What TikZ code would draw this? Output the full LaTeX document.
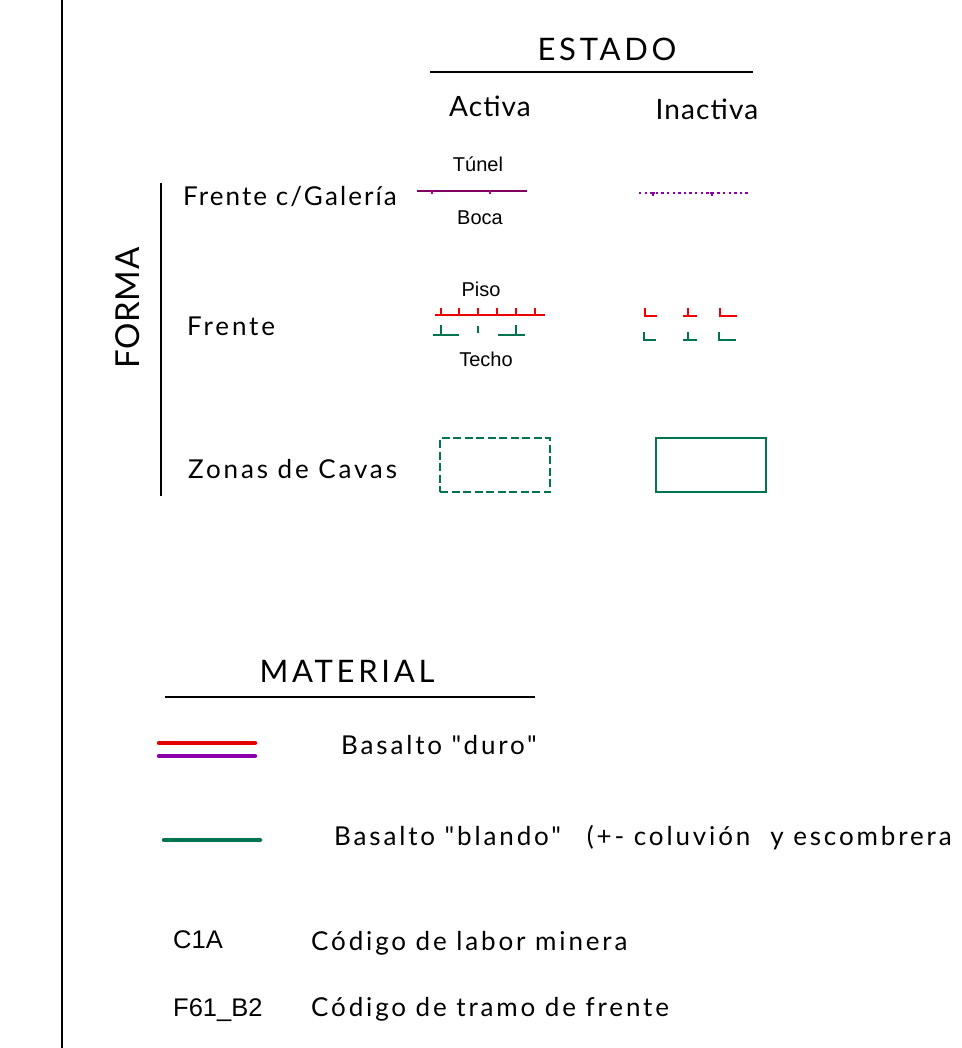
\documentclass[tikz,border=0pt]{standalone}
\usepackage{fontspec}
\setmainfont{Lato}[LetterSpace=11, Ligatures=TeXOff]
\newfontfamily\arialf{Liberation Sans}
\definecolor{galcol}{RGB}{128,0,96}
\definecolor{galdot}{RGB}{190,0,160}
\definecolor{purp}{RGB}{140,0,170}
\definecolor{redc}{RGB}{240,0,0}
\definecolor{grnc}{RGB}{0,115,80}
\tikzset{
  lbl/.style={font=\fontsize{26}{30}\selectfont, inner sep=0pt, anchor=base west},
  head/.style={font=\fontsize{31}{36}\selectfont\addfontfeature{LetterSpace=12}, inner sep=0pt, anchor=base},
  smalltxt/.style={font=\arialf\fontsize{20}{23}\selectfont, inner sep=0pt, anchor=base},
  codetxt/.style={font=\arialf\fontsize{25.5}{28}\selectfont, inner sep=0pt, anchor=base west},
  rule/.style={line width=2pt, black},
  sym/.style={line width=2.4pt},
  matline/.style={line width=4.5pt, line cap=round},
}
\begin{document}
\begin{tikzpicture}[x=1pt,y=-1pt]
\useasboundingbox (0,0) rectangle (961,1048);
% left border line
\coordinate (lt) at (62,0);
\coordinate (lb) at (62,1048);
\draw[line width=2.5pt] (lt) -- (lb);

% ESTADO header
\node[head] (estado) at (607,61) {ESTADO};
\coordinate (eu1) at (430,72);
\coordinate (eu2) at (753,72);
\draw[rule] (eu1) -- (eu2);
\node[head, font=\fontsize{28}{34}\selectfont\addfontfeature{LetterSpace=4}] (activa) at (490,117) {Activa};
\node[head, font=\fontsize{28}{34}\selectfont\addfontfeature{LetterSpace=4}] (inactiva) at (707,120) {Inactiva};

% FORMA
\node[head, rotate=90, font=\fontsize{33}{38}\selectfont\addfontfeature{LetterSpace=2}, anchor=center] (forma) at (128,308) {FORMA};
\coordinate (fb1) at (161,183);
\coordinate (fb2) at (161,496);
\draw[rule] (fb1) -- (fb2);

\node[lbl, font=\fontsize{26}{30}\selectfont\addfontfeature{LetterSpace=8}] (fcg) at (183,206) {Frente c/Galería};
\node[lbl] (fr) at (187,335) {Frente};
\node[lbl] (zc) at (188,478) {Zonas de Cavas};

% Frente c/Galeria symbols
\node[smalltxt] (tunel) at (478,172) {Túnel};
\node[smalltxt] (boca) at (480,225) {Boca};
\coordinate (ga1) at (417,191);
\coordinate (ga2) at (527,191);
\draw[sym, galcol] (ga1) -- (ga2);
\foreach \x in {432,490} \draw[galdot, line width=2pt] (\x,191) -- (\x,194);
\coordinate (gi1) at (639,193);
\coordinate (gi2) at (748,193);
\draw[line width=2.4pt, purp, dash pattern=on 2.4pt off 3.2pt] (gi1) -- (gi2);
\foreach \x in {653,712} \draw[purp, line width=2.5pt] (\x-2,193) -- (\x+2,193) (\x,193) -- (\x,196);

% Frente symbols
\node[smalltxt] (piso) at (481,296) {Piso};
\node[smalltxt] (techo) at (486,366) {Techo};
\coordinate (pa1) at (435,315);
\coordinate (pa2) at (545,315);
\draw[sym, redc] (pa1) -- (pa2);
\foreach \x in {441,459,478,497,516,535} \draw[sym, redc] (\x,308) -- (\x,315);
\draw[sym, grnc] (433,335) -- (459,335) (498,335) -- (525,335);
\draw[line width=2.8pt, grnc] (441,325) -- (441,335) (478,326) -- (478,333) (516,325) -- (516,335);

% inactive frente
\draw[line width=2.8pt, redc] (645,308) -- (645,316) -- (657,316);
\draw[line width=2.8pt, redc] (683,316) -- (697,316) (688,308) -- (688,316);
\draw[line width=2.8pt, redc] (720,308) -- (720,316) -- (737,316);
\draw[line width=2.8pt, grnc] (644,332) -- (644,340) -- (656,340);
\draw[line width=2.8pt, grnc] (683,340) -- (697,340) (688,332) -- (688,340);
\draw[line width=2.8pt, grnc] (719,332) -- (719,340) -- (736,340);

% Zonas de Cavas
\node[draw=grnc, line width=2.4pt, dash pattern=on 8pt off 3.5pt, minimum width=110pt, minimum height=54pt, inner sep=0pt] (zca) at (495,465) {};
\node[draw=grnc, line width=2.2pt, minimum width=110pt, minimum height=54pt, inner sep=0pt] (zci) at (711,465) {};

% MATERIAL
\node[head] (material) at (347,682) {MATERIAL};
\coordinate (mu1) at (165,697);
\coordinate (mu2) at (535,697);
\draw[rule] (mu1) -- (mu2);

\coordinate (r1) at (159,743); \coordinate (r2) at (255,743);
\coordinate (p1) at (159,756); \coordinate (p2) at (255,756);
\coordinate (g1) at (164,840); \coordinate (g2) at (260,840);
\draw[matline, red!90!black] (r1) -- (r2);
\draw[matline, purp] (p1) -- (p2);
\draw[matline, grnc] (g1) -- (g2);
\node[lbl] (duro) at (341,754) {Basalto "duro"};
\node[lbl] (blando) at (334,845) {Basalto "blando"\hspace{26pt}(+- coluvión\hspace{20pt}y escombrera};

% codes
\node[codetxt] (c1a) at (173,948) {C1A};
\node[lbl] (c1atxt) at (311,950) {Código de labor minera};
\node[codetxt] (f61) at (173,1016) {F61\_B2};
\node[lbl] (f61txt) at (311,1016) {Código de tramo de frente};
\end{tikzpicture}
\end{document}
